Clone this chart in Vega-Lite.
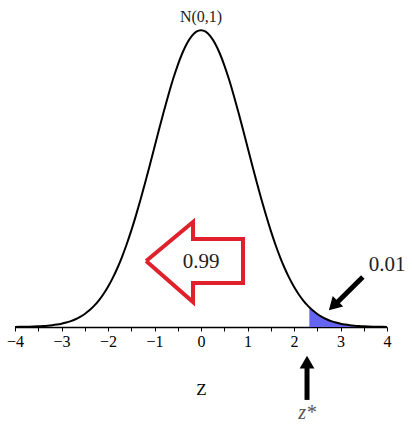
{
  "$schema": "https://vega.github.io/schema/vega-lite/v6.json",
  "width": 372,
  "height": 327,
  "autosize": {"type": "none"},
  "padding": {"left": 15, "top": 0, "right": 25, "bottom": 107},
  "background": "white",
  "config": {"view": {"stroke": null}},
  "datasets": {
    "curve": [
      {"x": -4.0, "y": 0.00013}, {"x": -3.9, "y": 0.0002}, {"x": -3.8, "y": 0.00029}, {"x": -3.7, "y": 0.00042},
      {"x": -3.6, "y": 0.00061}, {"x": -3.5, "y": 0.00087}, {"x": -3.4, "y": 0.00123}, {"x": -3.3, "y": 0.00172},
      {"x": -3.2, "y": 0.00238}, {"x": -3.1, "y": 0.00327}, {"x": -3.0, "y": 0.00443}, {"x": -2.9, "y": 0.00595},
      {"x": -2.8, "y": 0.00792}, {"x": -2.7, "y": 0.01042}, {"x": -2.6, "y": 0.01358}, {"x": -2.5, "y": 0.01753},
      {"x": -2.4, "y": 0.02239}, {"x": -2.3, "y": 0.02833}, {"x": -2.2, "y": 0.03547}, {"x": -2.1, "y": 0.04398},
      {"x": -2.0, "y": 0.05399}, {"x": -1.9, "y": 0.06562}, {"x": -1.8, "y": 0.07895}, {"x": -1.7, "y": 0.09405},
      {"x": -1.6, "y": 0.11092}, {"x": -1.5, "y": 0.12952}, {"x": -1.4, "y": 0.14973}, {"x": -1.3, "y": 0.17137},
      {"x": -1.2, "y": 0.19419}, {"x": -1.1, "y": 0.21785}, {"x": -1.0, "y": 0.24197}, {"x": -0.9, "y": 0.26609},
      {"x": -0.8, "y": 0.28969}, {"x": -0.7, "y": 0.31225}, {"x": -0.6, "y": 0.33322}, {"x": -0.5, "y": 0.35207},
      {"x": -0.4, "y": 0.36827}, {"x": -0.3, "y": 0.38139}, {"x": -0.2, "y": 0.39104}, {"x": -0.1, "y": 0.39695},
      {"x": 0.0, "y": 0.39894},
      {"x": 0.1, "y": 0.39695}, {"x": 0.2, "y": 0.39104}, {"x": 0.3, "y": 0.38139}, {"x": 0.4, "y": 0.36827},
      {"x": 0.5, "y": 0.35207}, {"x": 0.6, "y": 0.33322}, {"x": 0.7, "y": 0.31225}, {"x": 0.8, "y": 0.28969},
      {"x": 0.9, "y": 0.26609}, {"x": 1.0, "y": 0.24197}, {"x": 1.1, "y": 0.21785}, {"x": 1.2, "y": 0.19419},
      {"x": 1.3, "y": 0.17137}, {"x": 1.4, "y": 0.14973}, {"x": 1.5, "y": 0.12952}, {"x": 1.6, "y": 0.11092},
      {"x": 1.7, "y": 0.09405}, {"x": 1.8, "y": 0.07895}, {"x": 1.9, "y": 0.06562}, {"x": 2.0, "y": 0.05399},
      {"x": 2.1, "y": 0.04398}, {"x": 2.2, "y": 0.03547}, {"x": 2.3, "y": 0.02833}, {"x": 2.4, "y": 0.02239},
      {"x": 2.5, "y": 0.01753}, {"x": 2.6, "y": 0.01358}, {"x": 2.7, "y": 0.01042}, {"x": 2.8, "y": 0.00792},
      {"x": 2.9, "y": 0.00595}, {"x": 3.0, "y": 0.00443}, {"x": 3.1, "y": 0.00327}, {"x": 3.2, "y": 0.00238},
      {"x": 3.3, "y": 0.00172}, {"x": 3.4, "y": 0.00123}, {"x": 3.5, "y": 0.00087}, {"x": 3.6, "y": 0.00061},
      {"x": 3.7, "y": 0.00042}, {"x": 3.8, "y": 0.00029}, {"x": 3.9, "y": 0.0002}, {"x": 4.0, "y": 0.00013}
    ],
    "shade": [
      {"x": 2.33, "y": 0.02643}, {"x": 2.4, "y": 0.02239}, {"x": 2.5, "y": 0.01753}, {"x": 2.6, "y": 0.01358},
      {"x": 2.7, "y": 0.01042}, {"x": 2.8, "y": 0.00792}, {"x": 2.9, "y": 0.00595}, {"x": 3.0, "y": 0.00443},
      {"x": 3.1, "y": 0.00327}, {"x": 3.2, "y": 0.00238}, {"x": 3.3, "y": 0.00172}, {"x": 3.4, "y": 0.00123},
      {"x": 3.5, "y": 0.00087}, {"x": 3.6, "y": 0.00061}, {"x": 3.7, "y": 0.00042}, {"x": 3.8, "y": 0.00029},
      {"x": 3.9, "y": 0.0002}, {"x": 4.0, "y": 0.00013}
    ],
    "bigArrow": [
      {"i": 0, "x": -1.18, "y": 0.0887},
      {"i": 1, "x": -0.172, "y": 0.1411},
      {"i": 2, "x": -0.172, "y": 0.1183},
      {"i": 3, "x": 0.903, "y": 0.1183},
      {"i": 4, "x": 0.903, "y": 0.0591},
      {"i": 5, "x": -0.172, "y": 0.0591},
      {"i": 6, "x": -0.172, "y": 0.0336},
      {"i": 7, "x": -1.18, "y": 0.0887}
    ],
    "shafts": [
      {"x": 3.48, "y": 0.0672, "x2": 2.9, "y2": 0.0312},
      {"x": 2.28, "y": -0.098, "x2": 2.28, "y2": -0.055}
    ],
    "heads": [
      {"x": 2.88, "y": 0.0305, "angle": 225},
      {"x": 2.28, "y": -0.05, "angle": 0}
    ],
    "labels": [
      {"x": 0, "y": 0.4167, "label": "N(0,1)", "kind": "title"},
      {"x": 0, "y": 0.087, "label": "0.99", "kind": "big"},
      {"x": 4.0, "y": 0.083, "label": "0.01", "kind": "big"}
    ],
    "zstar": [
      {"x": 2.28, "y": -0.1156, "label": "z*"}
    ]
  },
  "encoding": {
    "x": {
      "field": "x",
      "type": "quantitative",
      "scale": {"domain": [-4, 4], "nice": false, "zero": false},
      "axis": {
        "title": "Z",
        "values": [-4, -3.5, -3, -2.5, -2, -1.5, -1, -0.5, 0, 0.5, 1, 1.5, 2, 2.5, 3, 3.5, 4],
        "labelExpr": "datum.value % 1 === 0 ? format(datum.value, 'd') : ''",
        "grid": false,
        "domainColor": "black",
        "domainWidth": 1.5,
        "tickColor": "black",
        "tickSize": 4,
        "labelFont": "Liberation Serif",
        "labelFontSize": 16,
        "labelColor": "black",
        "labelPadding": 2,
        "labelFlush": false,
        "labelOverlap": false,
        "titleFont": "Liberation Serif",
        "titleFontSize": 17,
        "titleFontWeight": "normal",
        "titleColor": "black",
        "titlePadding": 32
      }
    },
    "y": {
      "field": "y",
      "type": "quantitative",
      "scale": {"domain": [0, 0.4395], "nice": false, "zero": false},
      "axis": null
    }
  },
  "layer": [
    {
      "data": {"name": "shade"},
      "mark": {"type": "area", "color": "#6464f0", "interpolate": "monotone", "opacity": 1},
      "encoding": {"y2": {"datum": 0}}
    },
    {
      "data": {"name": "curve"},
      "mark": {"type": "line", "color": "black", "strokeWidth": 2, "interpolate": "monotone"}
    },
    {
      "data": {"name": "bigArrow"},
      "mark": {"type": "line", "color": "#e0202a", "strokeWidth": 4, "strokeJoin": "miter"},
      "encoding": {"order": {"field": "i", "type": "quantitative"}}
    },
    {
      "data": {"name": "shafts"},
      "mark": {"type": "rule", "color": "black", "strokeWidth": 5},
      "encoding": {
        "x2": {"field": "x2"},
        "y2": {"field": "y2"}
      }
    },
    {
      "data": {"name": "heads"},
      "mark": {"type": "point", "shape": "triangle", "filled": true, "color": "black", "size": 220, "opacity": 1},
      "encoding": {"angle": {"field": "angle", "type": "quantitative", "scale": null}}
    },
    {
      "data": {"name": "labels"},
      "mark": {"type": "text", "font": "Liberation Serif", "color": "#222222", "baseline": "middle", "align": "center"},
      "encoding": {
        "text": {"field": "label"},
        "size": {"condition": {"test": "datum.kind === 'title'", "value": 16}, "value": 21}
      }
    },
    {
      "data": {"name": "zstar"},
      "mark": {"type": "text", "font": "Liberation Serif", "fontStyle": "italic", "fontSize": 20, "color": "#555555", "baseline": "middle", "align": "center"},
      "encoding": {"text": {"field": "label"}}
    }
  ]
}
